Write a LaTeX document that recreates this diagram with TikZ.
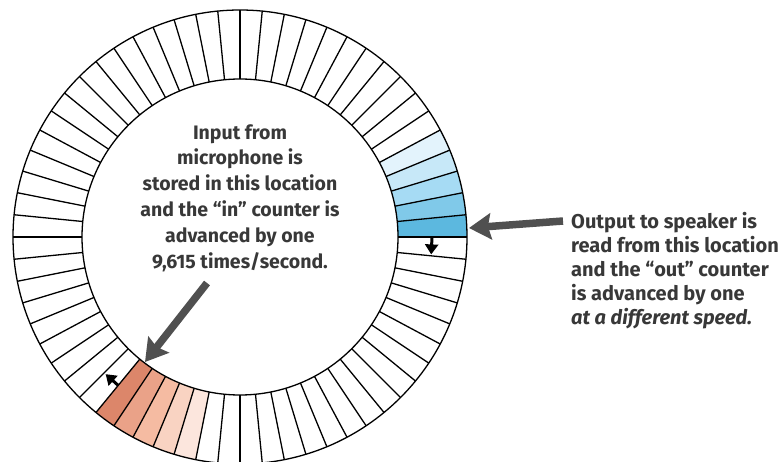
\documentclass[tikz,border=0pt]{standalone}
\usepackage{fontspec}
\setmainfont{Fira Sans}
\usetikzlibrary{arrows.meta}
\definecolor{bA}{HTML}{5CB8DF}
\definecolor{bB}{HTML}{80C9E9}
\definecolor{bC}{HTML}{A6DBF4}
\definecolor{bD}{HTML}{C7E8F8}
\definecolor{bE}{HTML}{E3F3FC}
\definecolor{rA}{HTML}{DC866A}
\definecolor{rB}{HTML}{EAA288}
\definecolor{rC}{HTML}{F5BBA2}
\definecolor{rD}{HTML}{F9D3C2}
\definecolor{rE}{HTML}{FCE6DD}
\definecolor{txt}{HTML}{383838}
\definecolor{bigarrow}{HTML}{505050}
\tikzset{
  ringline/.style={draw=black, line width=1.3pt},
  smallarrow/.style={line width=3pt, -{Triangle[width=13pt,length=10pt]}},
  pointer/.style={draw=bigarrow, line width=7.5pt, -{Stealth[width=26pt,length=22pt,inset=3pt]}},
  centertext/.style={text=txt, font=\bfseries\fontsize{19.5}{25.8}\selectfont, align=center, inner sep=0pt},
  sidetext/.style={text=txt, font=\bfseries\fontsize{20}{24}\selectfont, align=left, inner sep=0pt}
}
\begin{document}
\begin{tikzpicture}[x=1pt,y=1pt]
\useasboundingbox (0,0) rectangle (778,-462);
\fill[white] (0,0) rectangle (778,-462);
\coordinate (C) at (240,-237);
\begin{scope}[shift={(C)}]
  \foreach \a/\c in {0/bA,1/bB,2/bC,3/bD,4/bE,41/rA,42/rB,43/rC,44/rD,45/rE}{
    \fill[\c] ({\a*5.625}:158) arc[start angle={\a*5.625}, end angle={\a*5.625+5.625}, radius=158]
      -- ({\a*5.625+5.625}:227) arc[start angle={\a*5.625+5.625}, end angle={\a*5.625}, radius=227] -- cycle;
  }
  \draw[ringline] (0,0) circle[radius=158];
  \draw[ringline] (0,0) circle[radius=227];
  \foreach \i in {0,...,63}{
    \draw[ringline] ({\i*5.625}:158) -- ({\i*5.625}:227);
  }
  \coordinate (outstart) at (0:192);
  \coordinate (outnext) at (-5.2:192);
  \coordinate (instart) at (230.625:192);
  \coordinate (innext) at (225.6:192);
\end{scope}
\draw[smallarrow] (outstart) -- (outnext);
\draw[smallarrow] (instart) -- (innext);

\node[centertext, anchor=north] (intext) at (240,-124) {Input from\\microphone is\\stored in this location\\and the “in” counter is\\advanced by one\\9,615 times/second.};
\node[sidetext, anchor=north west] (outtext) at (571,-212) {Output to speaker is\\read from this location\\and the “out” counter\\is advanced by one\\\textit{at a different speed.}};

\coordinate (outtail) at (563,-221);
\coordinate (outtip) at (469,-228);
\coordinate (intail) at (207,-283);
\coordinate (intip) at (145,-362);
\draw[pointer] (outtail) -- (outtip);
\draw[pointer] (intail) -- (intip);
\end{tikzpicture}
\end{document}
